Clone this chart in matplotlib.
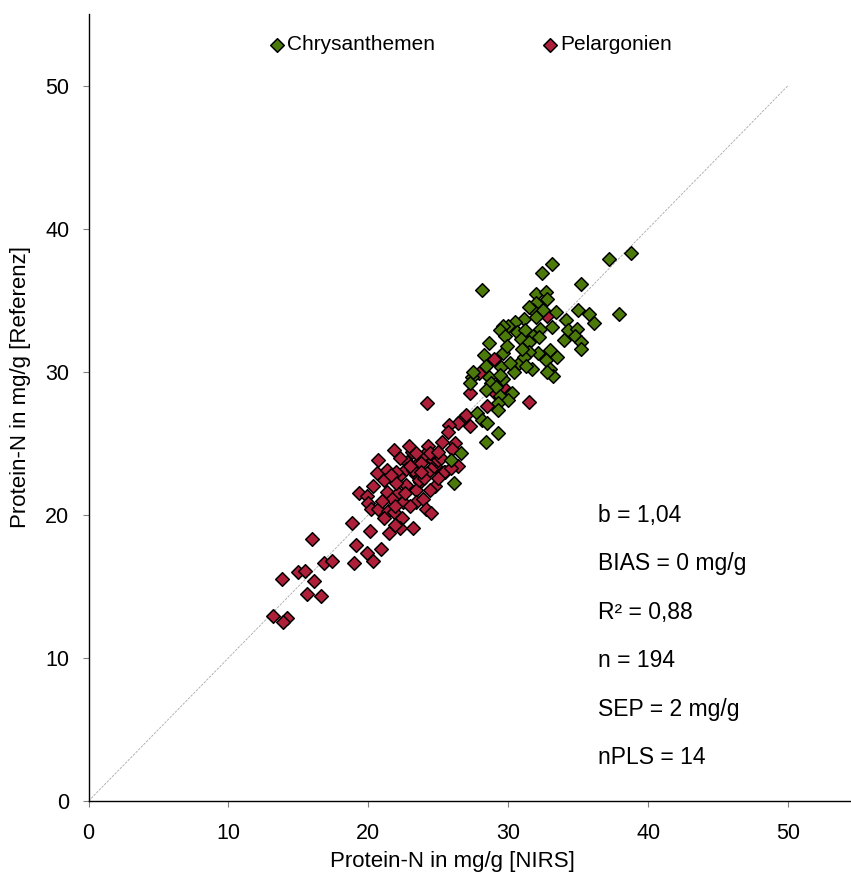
import matplotlib
matplotlib.use("Agg")
import matplotlib.pyplot as plt

plt.rcParams['font.family'] = ['Liberation Sans', 'DejaVu Sans']

# Chrysanthemen: NIRS (x) vs. Referenz (y), mg/g
chrys_x = [38.8, 37.2, 33.1, 32.4, 28.1, 35.2, 37.9, 32.0, 32.7, 32.8,
           31.95, 31.8, 32.5, 33.4, 32.0, 35.0, 35.8, 34.1, 36.1, 31.1,
           30.5, 30.0, 29.6, 29.4, 29.8, 30.6, 31.2, 32.3, 33.1, 31.8,
           30.9, 31.5, 34.3, 34.9, 34.8, 34.0, 35.2, 35.2, 33.0, 32.1,
           31.5, 28.6, 28.3, 29.6, 28.4, 29.5, 30.8, 31.1, 32.7, 31.7,
           30.4, 33.0, 33.2, 32.8, 27.4, 27.3, 28.6, 28.8, 29.6, 29.1,
           28.4, 29.4, 30.3, 30.0, 29.3, 29.3, 27.8, 28.1, 28.5, 29.3,
           28.4, 26.6, 25.9, 26.1, 27.5, 29.4, 31.5, 32.2, 31.0, 30.1,
           31.3, 29.9, 33.5]
chrys_y = [38.3, 37.9, 37.5, 36.9, 35.7, 36.1, 34.0, 35.4, 35.6, 35.1,
           34.8, 34.3, 34.3, 34.2, 33.8, 34.3, 34.0, 33.6, 33.4, 33.7,
           33.5, 33.2, 33.2, 32.9, 32.5, 32.8, 32.9, 33.0, 33.1, 32.5,
           32.3, 32.1, 32.9, 33.0, 32.5, 32.2, 32.1, 31.6, 31.5, 31.3,
           31.4, 32.0, 31.2, 31.3, 30.4, 30.3, 30.6, 31.0, 30.8, 30.2,
           30.0, 30.2, 29.7, 30.0, 29.6, 29.2, 29.6, 29.2, 29.5, 28.9,
           28.7, 28.3, 28.5, 28.0, 27.8, 27.3, 27.1, 26.6, 26.4, 25.7,
           25.1, 24.3, 23.8, 22.2, 30.0, 29.8, 34.5, 32.4, 31.6, 30.6,
           30.4, 31.8, 31.0]

# Pelargonien
pelar_x = [32.8, 29.0, 27.9, 29.6, 29.0, 27.3, 31.5, 28.5, 24.2, 26.7,
           26.4, 27.3, 25.8, 25.7, 25.3, 26.2, 24.3, 26.4, 25.5, 24.8,
           24.6, 24.0, 23.1, 22.8, 23.6, 24.5, 23.4, 22.7, 24.8, 23.7,
           21.8, 20.7, 23.4, 24.4, 25.0, 23.8, 23.2, 24.2, 25.4, 25.9,
           20.6, 21.3, 21.1, 22.2, 22.7, 23.4, 23.6, 21.3, 22.1, 19.3,
           19.9, 21.7, 22.5, 23.4, 23.9, 20.0, 20.2, 20.7, 21.4, 21.8,
           24.1, 24.5, 21.1, 22.4, 18.8, 20.1, 21.5, 22.3, 23.2, 21.9,
           16.0, 19.1, 20.9, 19.9, 20.3, 19.0, 16.8, 17.4, 15.0, 15.5,
           13.8, 16.1, 15.6, 16.6, 13.2, 14.2, 13.9, 22.3, 23.0, 22.0,
           24.0, 25.0, 22.6, 21.0, 23.0, 22.0, 24.4, 26.0, 25.2, 27.0,
           25.0, 21.6, 20.3, 22.9, 23.8, 21.9]
pelar_y = [33.9, 30.9, 29.9, 28.9, 28.6, 28.5, 27.9, 27.6, 27.8, 26.7,
           26.4, 26.2, 26.3, 25.8, 25.1, 25.0, 24.8, 23.4, 23.0, 23.4,
           23.8, 24.2, 24.4, 23.7, 23.7, 23.2, 22.8, 23.2, 22.0, 22.3,
           24.5, 23.8, 24.3, 24.3, 23.8, 23.6, 23.1, 22.9, 23.0, 23.3,
           22.9, 23.1, 22.4, 22.7, 22.1, 21.7, 22.4, 21.6, 21.5, 21.5,
           21.3, 21.1, 20.9, 20.9, 21.1, 20.8, 20.4, 20.4, 20.3, 20.2,
           20.4, 20.1, 19.8, 19.8, 19.4, 18.9, 18.7, 19.1, 19.1, 19.3,
           18.3, 17.9, 17.6, 17.3, 16.8, 16.6, 16.6, 16.8, 16.0, 16.1,
           15.5, 15.4, 14.5, 14.3, 12.9, 12.8, 12.5, 24.0, 23.4, 23.0,
           22.6, 22.6, 21.5, 21.0, 20.6, 22.2, 21.7, 24.6, 24.0, 27.0,
           24.4, 22.8, 22.0, 24.8, 23.0, 20.6]

diag = [0, 50]
ticks = [0, 10, 20, 30, 40, 50]
stats = ["b = 1,04", "BIAS = 0 mg/g", "R\u00b2 = 0,88", "n = 194",
         "SEP = 2 mg/g", "nPLS = 14"]

fig = plt.figure(figsize=(8.51, 8.74), dpi=100)
ax = fig.add_axes([0.104, 0.0835, 0.896, 0.9005])

# 1:1 line
ax.plot(diag, diag, color='#a8a8a8', lw=0.6, ls=(0, (3, 1.5)), zorder=1)

ax.scatter(pelar_x, pelar_y, marker='D', s=48, color='#AE1F3A',
           edgecolor='black', linewidth=1.1, zorder=2, label='Pelargonien')
ax.scatter(chrys_x, chrys_y, marker='D', s=48, color='#4C7A0A',
           edgecolor='black', linewidth=1.1, zorder=3, label='Chrysanthemen')

ax.set_xlim(0, 54.5)
ax.set_ylim(0, 55)
ax.set_xticks(ticks)
ax.set_yticks(ticks)
ax.tick_params(direction='out', length=4.3, width=0.8, color='#808080',
               labelsize=15.5, labelcolor='black')
ax.tick_params(axis='x', pad=11.5)
ax.tick_params(axis='y', pad=9.5)
for s in ['top', 'right']:
    ax.spines[s].set_visible(False)
for s in ['left', 'bottom']:
    ax.spines[s].set_linewidth(1.0)

ax.set_xlabel('Protein-N in mg/g [NIRS]', fontsize=16)
ax.set_ylabel('Protein-N in mg/g [Referenz]', fontsize=16)
ax.xaxis.set_label_coords(0.477, -0.063)
ax.yaxis.set_label_coords(-0.075, 0.526)

for i, t in enumerate(stats):
    ax.text(36.4, 19.95 - i * 3.38, t, fontsize=16.5, va='center', ha='left')

handles, labels = ax.get_legend_handles_labels()
fig.legend(handles[::-1], labels[::-1], ncol=2, loc='center left',
           bbox_to_anchor=(0.318, 1 - 45 / 874), frameon=False, fontsize=15,
           handlelength=0.6, handletextpad=0.2, columnspacing=5.2,
           borderpad=0, borderaxespad=0)

fig.savefig('out.png', dpi=100)
